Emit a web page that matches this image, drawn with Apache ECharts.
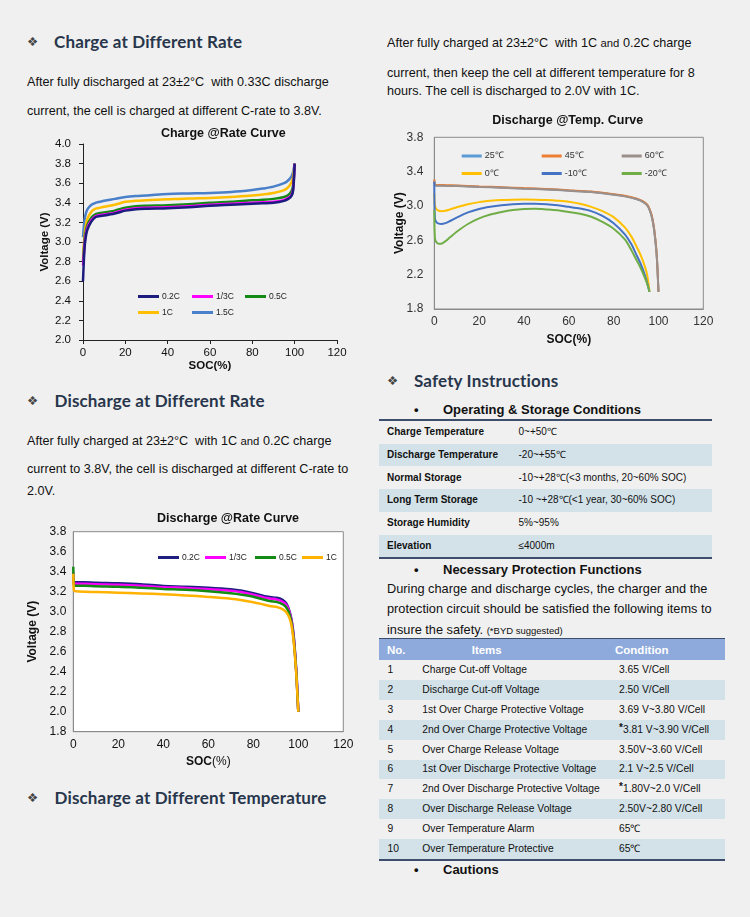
<!DOCTYPE html>
<html><head><meta charset="utf-8">
<script src="https://cdn.jsdelivr.net/npm/echarts@6/dist/echarts.min.js"></script>
<style>
html,body{margin:0;padding:0;background:#f0f0f0;width:750px;height:917px;overflow:hidden;position:relative;}
.a{position:absolute;white-space:nowrap;font-family:"Liberation Sans",Arial,sans-serif;color:#111;}
.h{font-family:Lato,"Open Sans",sans-serif;font-weight:700;font-size:17px;letter-spacing:0.15px;color:#28364c;line-height:20px;}
.bl{font-family:"DejaVu Sans",sans-serif;font-size:12.5px;color:#444;line-height:20px;}
.p{font-size:12.6px;line-height:16px;}
.sb{font-size:13px;font-weight:bold;line-height:16px;}
.dot{font-size:13px;font-weight:bold;line-height:16px;}
.sm{font-size:11.3px;}
.ch{position:absolute;}
.row{position:absolute;}
.cell{position:absolute;white-space:nowrap;font-family:"Liberation Sans",Arial,sans-serif;color:#111;}
</style></head>
<body>
<div id="txt"></div>
<div id="chartA" class="ch" style="left:20px;top:120px;width:340px;height:260px;"></div>
<div id="chartB" class="ch" style="left:20px;top:505px;width:340px;height:270px;"></div>
<div id="chartC" class="ch" style="left:380px;top:105px;width:350px;height:250px;"></div>
<script>
// ---------------- DATA ----------------
// Charge @Rate Curve
const chargeSoc = [0, 0.5, 1, 2, 4, 6, 8, 10, 15, 20, 25, 30, 40, 50, 60, 70, 80, 85, 90, 95, 97, 98.5, 99.3, 100];
const charge02C = [2.60, 2.85, 3.00, 3.12, 3.21, 3.255, 3.265, 3.27, 3.29, 3.32, 3.335, 3.34, 3.345, 3.355, 3.37, 3.38, 3.39, 3.395, 3.40, 3.42, 3.44, 3.47, 3.53, 3.80];
const charge13C = [2.76, 2.90, 3.03, 3.14, 3.225, 3.265, 3.275, 3.28, 3.30, 3.33, 3.345, 3.35, 3.355, 3.365, 3.38, 3.39, 3.40, 3.405, 3.41, 3.43, 3.45, 3.48, 3.55, 3.80];
const charge05C = [2.80, 2.95, 3.07, 3.17, 3.25, 3.285, 3.295, 3.30, 3.32, 3.35, 3.365, 3.37, 3.375, 3.385, 3.40, 3.41, 3.425, 3.43, 3.44, 3.46, 3.48, 3.52, 3.58, 3.80];
const charge1C  = [2.83, 3.00, 3.12, 3.23, 3.31, 3.34, 3.35, 3.36, 3.38, 3.41, 3.42, 3.425, 3.435, 3.445, 3.45, 3.46, 3.475, 3.485, 3.50, 3.53, 3.56, 3.61, 3.67, 3.80];
const charge15C = [3.05, 3.18, 3.26, 3.33, 3.38, 3.40, 3.41, 3.42, 3.44, 3.46, 3.47, 3.475, 3.49, 3.495, 3.50, 3.51, 3.53, 3.545, 3.565, 3.60, 3.63, 3.67, 3.72, 3.80];
const chargeNames = ['0.2C', '1/3C', '0.5C', '1C', '1.5C'];

// Discharge @Rate Curve
const disSoc = [0, 0.3, 1, 5, 10, 20, 30, 40, 50, 60, 70, 75, 80, 85, 88, 90, 92, 94, 95, 96, 97, 98, 99, 99.5, 100];
const dis02C = [3.34, 3.30, 3.295, 3.295, 3.29, 3.285, 3.275, 3.257, 3.25, 3.24, 3.225, 3.21, 3.185, 3.155, 3.145, 3.14, 3.13, 3.10, 3.07, 3.01, 2.92, 2.75, 2.45, 2.25, 2.00];
const dis13C = [3.40, 3.285, 3.28, 3.28, 3.275, 3.27, 3.26, 3.245, 3.238, 3.225, 3.21, 3.195, 3.17, 3.14, 3.13, 3.125, 3.11, 3.085, 3.055, 3.00, 2.91, 2.73, 2.43, 2.23, 2.00];
const dis05C = [3.45, 3.265, 3.26, 3.26, 3.255, 3.25, 3.24, 3.228, 3.22, 3.205, 3.185, 3.17, 3.15, 3.12, 3.105, 3.10, 3.085, 3.06, 3.03, 2.98, 2.89, 2.71, 2.42, 2.22, 2.00];
const dis1C  = [3.38, 3.21, 3.205, 3.20, 3.197, 3.19, 3.183, 3.174, 3.163, 3.148, 3.13, 3.115, 3.095, 3.07, 3.055, 3.05, 3.035, 3.01, 2.985, 2.94, 2.86, 2.69, 2.41, 2.21, 2.00];
const disNames = ['0.2C', '1/3C', '0.5C', '1C'];

// Discharge @Temp. Curve
const tempSocWarm = [0, 0.3, 1, 2, 3, 5, 10, 20, 30, 40, 50, 60, 70, 80, 85, 90, 92, 94, 95, 96, 97, 98, 99, 99.5, 100];
const temp25 = [3.30, 3.245, 3.24, 3.24, 3.24, 3.238, 3.235, 3.225, 3.215, 3.205, 3.195, 3.18, 3.165, 3.135, 3.115, 3.085, 3.065, 3.035, 3.01, 2.96, 2.88, 2.74, 2.50, 2.30, 2.00];
const temp45 = [3.31, 3.25, 3.245, 3.245, 3.244, 3.242, 3.238, 3.228, 3.218, 3.208, 3.198, 3.183, 3.168, 3.138, 3.118, 3.088, 3.068, 3.04, 3.015, 2.965, 2.89, 2.75, 2.51, 2.31, 2.00];
const temp60 = [3.29, 3.24, 3.236, 3.236, 3.236, 3.234, 3.232, 3.222, 3.212, 3.202, 3.192, 3.177, 3.162, 3.132, 3.112, 3.082, 3.062, 3.03, 3.005, 2.955, 2.875, 2.73, 2.49, 2.29, 2.00];
const tempSocCold = [0, 0.3, 1, 2, 3, 5, 7, 10, 15, 20, 25, 30, 35, 40, 45, 50, 55, 60, 65, 70, 75, 80, 85, 88, 90, 92, 94, 95, 96];
const temp0   = [3.15, 3.00, 2.96, 2.945, 2.94, 2.945, 2.96, 2.985, 3.02, 3.045, 3.06, 3.07, 3.074, 3.075, 3.074, 3.07, 3.062, 3.05, 3.025, 2.99, 2.94, 2.87, 2.75, 2.64, 2.54, 2.43, 2.29, 2.19, 2.00];
const tempM10 = [3.28, 2.85, 2.81, 2.795, 2.79, 2.80, 2.825, 2.865, 2.925, 2.965, 2.99, 3.008, 3.02, 3.025, 3.025, 3.02, 3.008, 2.99, 2.97, 2.94, 2.885, 2.80, 2.67, 2.55, 2.44, 2.33, 2.19, 2.10, 2.00];
const tempM20 = [2.95, 2.62, 2.575, 2.56, 2.56, 2.59, 2.635, 2.70, 2.79, 2.855, 2.90, 2.93, 2.953, 2.965, 2.967, 2.96, 2.95, 2.93, 2.91, 2.875, 2.815, 2.735, 2.61, 2.48, 2.38, 2.28, 2.16, 2.09, 2.00];
const tempNames = ['25℃', '45℃', '60℃', '0℃', '-10℃', '-20℃'];

// Tick settings
const socTicks = {min: 0, max: 120, interval: 20};
const chargeVTicks = {min: 2.0, max: 4.0, interval: 0.2};
const disVTicks = {min: 1.8, max: 3.8, interval: 0.2};
const tempVTicks = {min: 1.8, max: 3.8, interval: 0.2};

// Tables
const opLabels = ['Charge Temperature', 'Discharge Temperature', 'Normal Storage', 'Long Term Storage', 'Storage Humidity', 'Elevation'];
const opValues = ['0~+50℃', '-20~+55℃', '-10~+28℃(<3 months, 20~60% SOC)', '-10 ~+28℃(<1 year, 30~60% SOC)', '5%~95%', '≤4000m'];
const protNo = ['1','2','3','4','5','6','7','8','9','10'];
const protItems = ['Charge Cut-off Voltage','Discharge Cut-off Voltage','1st Over Charge Protective Voltage','2nd Over Charge Protective Voltage','Over Charge Release Voltage','1st Over Discharge Protective Voltage','2nd Over Discharge Protective Voltage','Over Discharge Release Voltage','Over Temperature Alarm','Over Temperature Protective'];
const protCond = ['3.65 V/Cell','2.50 V/Cell','3.69 V~3.80 V/Cell','*3.81 V~3.90 V/Cell','3.50V~3.60 V/Cell','2.1 V~2.5 V/Cell','*1.80V~2.0 V/Cell','2.50V~2.80 V/Cell','65℃','65℃'];

// ---------------- TEXT LAYOUT ----------------
const txt = document.getElementById('txt');
function put(html, cls, x, cy, lh, extra) {
  const d = document.createElement('div');
  d.className = 'a ' + cls;
  d.style.left = x + 'px';
  d.style.top = (cy - lh / 2) + 'px';
  if (extra) d.style.cssText += extra;
  d.innerHTML = html;
  txt.appendChild(d);
  return d;
}
function heading(text, cy, bx, tx) {
  put('❖', 'bl', bx, cy, 20);
  put(text, 'h', tx, cy, 20);
}
heading('Charge at Different Rate', 41.7, 27, 54);
put('After fully discharged at 23±2°C&nbsp; with 0.33C discharge', 'p', 27, 81.7, 16);
put('current, the cell is charged at different C-rate to 3.8V.', 'p', 27, 110.8, 16);
heading('Discharge at Different Rate', 400.8, 27, 54.5);
put('After fully charged at 23±2°C&nbsp; with 1C <span class="sm">and</span> 0.2C charge', 'p', 27, 440.8, 16);
put('current to 3.8V, the cell is discharged at different C-rate to', 'p', 27, 469, 16);
put('2.0V.', 'p', 27, 490.8, 16);
heading('Discharge at Different Temperature', 797.5, 27, 54.5);

put('After fully charged at 23±2°C&nbsp; with 1C <span class="sm">and</span> 0.2C charge', 'p', 387, 42.5, 16);
put('current, then keep the cell at different temperature for 8', 'p', 387, 72.5, 16);
put('hours. The cell is discharged to 2.0V with 1C.', 'p', 387, 90.8, 16);
heading('Safety Instructions', 380.8, 387, 414);
put('•', 'dot', 414, 410, 16);
put('Operating &amp; Storage Conditions', 'sb', 443, 410, 16);
put('•', 'dot', 414, 570, 16);
put('Necessary Protection Functions', 'sb', 443, 570, 16);
put('During charge and discharge cycles, the charger and the', 'p', 387, 589.3, 16, 'font-size:12.75px;');
put('protection circuit should be satisfied the following items to', 'p', 387, 609.3, 16, 'font-size:12.75px;');
put('insure the safety. <span style="font-size:9.5px">(*BYD suggested)</span>', 'p', 387, 630, 16, 'font-size:12.75px;');
put('•', 'dot', 414, 870, 16);
put('Cautions', 'sb', 443, 870, 16);

function box(x, y, w, h, bg) {
  const d = document.createElement('div');
  d.className = 'row';
  d.style.cssText = `left:${x}px;top:${y}px;width:${w}px;height:${h}px;background:${bg};`;
  txt.appendChild(d);
}
function cell(html, x, cy, fs, bold, color) {
  const d = document.createElement('div');
  d.className = 'cell';
  d.style.cssText = `left:${x}px;top:${cy - 8}px;line-height:16px;font-size:${fs}px;font-weight:${bold ? 'bold' : 'normal'};color:${color || '#111'};`;
  d.innerHTML = html;
  txt.appendChild(d);
}
// Table 1
const t1Top = 421, t1H = 22.7, t1L = 379, t1W = 332.7;
box(t1L, t1Top - 2, t1W, 2, '#3d4d6c');
opLabels.forEach((lab, i) => {
  const y = t1Top + i * t1H;
  if (i % 2 === 1) box(t1L, y, t1W, t1H, '#d3e2e9');
  cell(lab, 387, y + t1H / 2, 10, true);
  cell(opValues[i], 518.5, y + t1H / 2, 10, false);
});
box(t1L, t1Top + 6 * t1H, t1W, 2, '#3d4d6c');
// Table 2
const t2Top = 639.3, t2HeadH = 20.7, t2H = 19.9, t2L = 379, t2W = 346;
box(t2L, t2Top - 1, t2W, 1.5, '#3d4d6c');
box(t2L, t2Top, t2W, t2HeadH, '#8eaadc');
cell('No.', 387, t2Top + t2HeadH / 2, 11.5, true, '#fff');
cell('Items', 471.7, t2Top + t2HeadH / 2, 11.5, true, '#fff');
cell('Condition', 615, t2Top + t2HeadH / 2, 11.5, true, '#fff');
protItems.forEach((it, i) => {
  const y = t2Top + t2HeadH + i * t2H;
  if (i % 2 === 1) box(t2L, y, t2W, t2H, '#d3e2e9');
  cell(protNo[i], 387.5, y + t2H / 2, 10.3, false);
  cell(it, 422.3, y + t2H / 2, 10.3, false);
  let c = protCond[i];
  if (c.startsWith('*')) c = '<span style="font-size:10px;font-weight:bold;position:relative;top:-2px">*</span>' + c.slice(1);
  cell(c, 619, y + t2H / 2, 10.3, false);
});
box(t2L, t2Top + t2HeadH + 10 * t2H - 0.5, t2W, 2, '#3d4d6c');

// ---------------- CHARTS ----------------
const FF = '"Liberation Sans", Arial, sans-serif';
function ser(name, xs, ys, color, width, z) {
  return {
    name, type: 'line', data: xs.map((x, i) => [x, ys[i]]),
    symbol: 'none', showSymbol: false, smooth: 0.3,
    lineStyle: {color, width}, itemStyle: {color}, z: z || 2, animation: false
  };
}
function leg(name, left, top, w, fs, color) {
  return {
    data: [name], left, top, padding: 0, itemWidth: w, itemHeight: 3, icon: 'rect',
    selectedMode: false, itemGap: 0,
    textStyle: {fontSize: fs, color: color || '#222', fontFamily: FF, padding: [0, 0, 0, -2]}
  };
}
function titleG(text, x, y, fs) {
  return {type: 'text', x, y, silent: true,
    style: {text, font: `bold ${fs}px ${FF}`, fill: '#111', align: 'center', verticalAlign: 'middle', textAlign: 'center', textVerticalAlign: 'middle'}};
}

// Chart A
const cA = echarts.init(document.getElementById('chartA'), null, {renderer: 'canvas'});
const colA = ['#1c1c7e', '#ff00ff', '#138a13', '#ffbf00', '#4a7fc9'];
const dataA = [charge02C, charge13C, charge05C, charge1C, charge15C];
cA.setOption({
  animation: false,
  graphic: [titleG('Charge @Rate Curve', 203.3, 13.3, 12.5)],
  grid: {left: 63, top: 24, width: 254, height: 196, show: false, outerBoundsMode: 'none', containLabel: false},
  legend: [
    leg(chargeNames[0], 118, 172, 21, 8.5), leg(chargeNames[1], 172, 172, 21, 8.5), leg(chargeNames[2], 225, 172, 21, 8.5),
    leg(chargeNames[3], 118, 188, 21, 8.5), leg(chargeNames[4], 172, 188, 21, 8.5)
  ],
  xAxis: {type: 'value', ...socTicks,
    axisLine: {show: true, lineStyle: {color: '#222', width: 1}},
    axisTick: {show: true, length: 4, lineStyle: {color: '#222'}},
    splitLine: {show: false},
    axisLabel: {fontSize: 11.5, color: '#111', margin: 7, fontFamily: FF},
    name: 'SOC(%)', nameLocation: 'middle', nameGap: 20, nameMoveOverlap: false,
    nameTextStyle: {fontSize: 11.5, fontWeight: 'bold', color: '#111', fontFamily: FF}},
  yAxis: {type: 'value', ...chargeVTicks,
    axisLine: {show: true, lineStyle: {color: '#222', width: 1}},
    axisTick: {show: true, length: 4, lineStyle: {color: '#222'}},
    splitLine: {show: false},
    axisLabel: {fontSize: 11.5, color: '#111', margin: 12, fontFamily: FF, formatter: v => v.toFixed(1)},
    name: 'Voltage (V)', nameLocation: 'middle', nameGap: 32, nameMoveOverlap: false,
    nameTextStyle: {fontSize: 11.5, fontWeight: 'bold', color: '#111', fontFamily: FF}},
  series: dataA.map((d, i) => ser(chargeNames[i], chargeSoc, d, colA[i], 2.5, 2 + (4 - i)))
});

// Chart B
const cB = echarts.init(document.getElementById('chartB'));
const colB = ['#1f1f82', '#ff00ff', '#138a13', '#ffb300'];
const dataB = [dis02C, dis13C, dis05C, dis1C];
cB.setOption({
  animation: false,
  graphic: [titleG('Discharge @Rate Curve', 208, 14, 12.5)],
  grid: {left: 53.3, top: 26.7, width: 270, height: 200, show: true, borderColor: '#8a8a8a', borderWidth: 1, backgroundColor: '#ffffff', outerBoundsMode: 'none', containLabel: false},
  legend: [
    leg(disNames[0], 138, 48, 21, 8.5), leg(disNames[1], 185, 48, 21, 8.5),
    leg(disNames[2], 235, 48, 21, 8.5), leg(disNames[3], 282, 48, 21, 8.5)
  ],
  xAxis: {type: 'value', ...socTicks,
    axisLine: {show: true, lineStyle: {color: '#8a8a8a', width: 1}},
    axisTick: {show: false}, splitLine: {show: false},
    axisLabel: {fontSize: 12, color: '#111', margin: 7, fontFamily: FF},
    name: '{b|SOC}(%)', nameLocation: 'middle', nameGap: 22,
    nameTextStyle: {fontSize: 12, color: '#111', fontFamily: FF, rich: {b: {fontWeight: 'bold', fontSize: 12, fontFamily: FF, color: '#111'}}}},
  yAxis: {type: 'value', ...disVTicks,
    axisLine: {show: true, lineStyle: {color: '#8a8a8a', width: 1}},
    axisTick: {show: false}, splitLine: {show: false},
    axisLabel: {fontSize: 12, color: '#111', margin: 7, fontFamily: FF, formatter: v => v.toFixed(1)},
    name: 'Voltage (V)', nameLocation: 'middle', nameGap: 33,
    nameTextStyle: {fontSize: 12, fontWeight: 'bold', color: '#111', fontFamily: FF}},
  series: dataB.map((d, i) => ser(disNames[i], disSoc, d, colB[i], 2.5, 2 + i))
});

// Chart C
const cC = echarts.init(document.getElementById('chartC'));
const colC = ['#5b9bd5', '#ed7d31', '#9a8f8a', '#ffc000', '#4472c4', '#70ad47'];
const seriesC = [
  ser(tempNames[0], tempSocWarm, temp25, colC[0], 2, 2),
  ser(tempNames[1], tempSocWarm, temp45, colC[1], 2, 3),
  ser(tempNames[2], tempSocWarm, temp60, colC[2], 2, 4),
  ser(tempNames[3], tempSocCold, temp0, colC[3], 2, 5),
  ser(tempNames[4], tempSocCold, tempM10, colC[4], 2, 6),
  ser(tempNames[5], tempSocCold, tempM20, colC[5], 2, 7)
];
cC.setOption({
  animation: false,
  graphic: [titleG('Discharge @Temp. Curve', 187.7, 16, 12.5)],
  grid: {left: 54.3, top: 32.3, width: 269, height: 171.7, show: true, borderColor: '#8a8a8a', borderWidth: 1, backgroundColor: 'transparent', outerBoundsMode: 'none', containLabel: false},
  legend: [
    leg(tempNames[0], 81.7, 46.5, 20, 9, '#333'), leg(tempNames[1], 161.7, 46.5, 20, 9, '#333'), leg(tempNames[2], 241.7, 46.5, 20, 9, '#333'),
    leg(tempNames[3], 81.7, 64, 20, 9, '#333'), leg(tempNames[4], 161.7, 64, 20, 9, '#333'), leg(tempNames[5], 241.7, 64, 20, 9, '#333')
  ],
  xAxis: {type: 'value', ...socTicks,
    axisLine: {show: true, lineStyle: {color: '#8a8a8a', width: 1}},
    axisTick: {show: false}, splitLine: {show: false},
    axisLabel: {fontSize: 12, color: '#333', margin: 7, fontFamily: FF},
    name: 'SOC(%)', nameLocation: 'middle', nameGap: 25, nameMoveOverlap: false,
    nameTextStyle: {fontSize: 12, fontWeight: 'bold', color: '#111', fontFamily: FF}},
  yAxis: {type: 'value', ...tempVTicks,
    axisLine: {show: true, lineStyle: {color: '#8a8a8a', width: 1}},
    axisTick: {show: false}, splitLine: {show: false},
    axisLabel: {fontSize: 12, color: '#333', margin: 11, fontFamily: FF,
      formatter: v => (Math.round(v * 10) % 4 === 2 ? v.toFixed(1) : '')},
    name: 'Voltage (V)', nameLocation: 'middle', nameGap: 29, nameMoveOverlap: false,
    nameTextStyle: {fontSize: 12, fontWeight: 'bold', color: '#111', fontFamily: FF}},
  series: seriesC
});
</script>
</body></html>
